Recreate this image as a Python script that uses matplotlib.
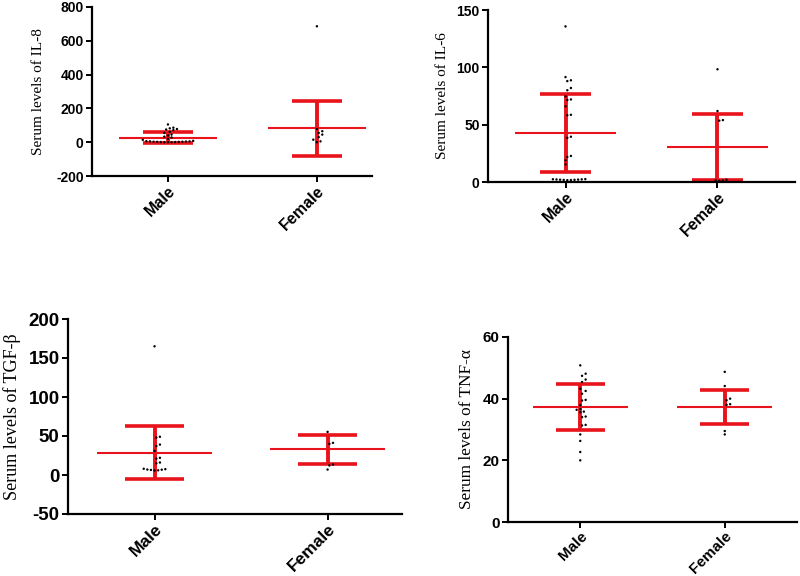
# dot plots of serum cytokine levels, male vs female, with mean and SD
import numpy as np
import matplotlib
matplotlib.use('Agg')
import matplotlib.pyplot as plt

plt.rcParams['axes.unicode_minus'] = False

groups = ['Male', 'Female']

# IL-8
il8_male = [105, 86, 82, 78, 75, 72, 62, 55, 45, 40, 33, 28, 20, 14,
            8, 6, 5, 5, 4, 3, 3, 2, 2, 1, 1, 0, 0, 0]
il8_female = [686, 78, 65, 55, 45, 30, 15, 5, 0]
il8_mean = [27, 83]
il8_sd = [34, 163]

# IL-6
il6_male = [135.7, 91.5, 88.7, 88.0, 82, 80, 74.7, 72, 71.5, 66, 58.6, 58.2,
            39.5, 38.5, 22.7, 21.8, 18.9, 15.4,
            2.5, 2.4, 2.3, 2.2, 2.1, 2.0, 1.9, 1.8, 1.7, 1.6]
il6_female = [98.3, 61.9, 54, 53.5, 2, 1.5, 1.2, 1]
il6_mean = [42.7, 30.5]
il6_sd = [34, 29]

# TGF-beta
tgf_male = [165, 49, 48, 39, 37, 31, 22, 21, 16, 15, 8, 7.5, 7, 6.8, 6.5, 6, 5.8]
tgf_female = [55.3, 41.2, 39.9, 13.4, 12.2, 7]
tgf_mean = [28.8, 33.3]
tgf_sd = [33.7, 18.6]

# TNF-alpha
tnf_male = [50.8, 48.1, 47.4, 46.2, 45.4, 43.2, 42.5, 41.6, 39.6, 39.4, 37.9,
            36.6, 36.4, 35.8, 35.6, 34.2, 34.0, 31.5, 31.3, 28.4, 26.3, 22.7, 20.0]
tnf_female = [48.7, 44.1, 40.0, 39.5, 38.2, 38.0, 29.5, 28.4]
tnf_mean = [37.3, 37.4]
tnf_sd = [7.6, 5.5]

red = '#e8131b'


def swarm(values, y_px, x_px, gap=3.0, step=3.6):
    # spread points with close values sideways (beeswarm-ish)
    vals = np.sort(np.asarray(values, dtype=float))
    offs = np.zeros(len(vals))
    i = 0
    while i < len(vals):
        j = i
        while j + 1 < len(vals) and (vals[j + 1] - vals[i]) * y_px < gap:
            j += 1
        n = j - i + 1
        for k in range(n):
            m = (k + 1) // 2
            offs[i + k] = m * step / x_px * (1 if k % 2 else -1) if n > 1 else 0
        if n % 2 == 0 and n > 1:
            offs[i:j + 1] += step / x_px / 2
        i = j + 1
    return vals, offs


def panel(rect, data, mean, sd, ylim, yticks, label, xlim, tick_fs, xlab_fs, lab_fs, lab_dx):
    ax = fig.add_axes(rect)
    w_px = rect[2] * 800
    h_px = rect[3] * 576
    x_px = w_px / (xlim[1] - xlim[0])
    y_px = h_px / (ylim[1] - ylim[0])
    for i in range(len(groups)):
        vals, offs = swarm(data[i], y_px, x_px)
        ax.scatter(i + offs, vals, s=3, c='black', edgecolors='none', zorder=3)
        # sd bar
        ax.vlines(i, mean[i] - sd[i], mean[i] + sd[i], color=red, lw=2.8, zorder=2)
        ax.hlines([mean[i] - sd[i], mean[i] + sd[i]], i - 0.17, i + 0.17, color=red, lw=2.6, zorder=2)
        # mean
        ax.hlines(mean[i], i - 0.33, i + 0.33, color=red, lw=1.5, zorder=2)
    ax.set_xlim(xlim)
    ax.set_ylim(ylim)
    ax.set_yticks(yticks)
    ax.set_xticks(range(len(groups)))
    ax.set_xticklabels(groups, rotation=45, ha='right', va='top', rotation_mode='anchor',
                       fontsize=xlab_fs, fontweight='bold', family='Liberation Sans')
    for t in ax.get_yticklabels():
        t.set_fontsize(tick_fs)
        t.set_fontweight('bold')
        t.set_family('Liberation Sans')
    ax.spines['top'].set_visible(False)
    ax.spines['right'].set_visible(False)
    ax.spines['left'].set_linewidth(1.6)
    ax.spines['bottom'].set_linewidth(1.6)
    ax.tick_params(axis='both', width=1.4, length=4, direction='out', pad=2)
    ax.tick_params(axis='x', pad=1)
    ax.set_ylabel(label, family='Liberation Serif', fontsize=lab_fs, va='center')
    ax.yaxis.set_label_coords(-lab_dx / w_px, 0.5)
    return ax


fig = plt.figure(figsize=(8, 5.76), dpi=100)

panel([92 / 800, 1 - 176 / 576, 280 / 800, 169 / 576], [il8_male, il8_female], il8_mean, il8_sd,
      (-200, 800), [-200, 0, 200, 400, 600, 800], 'Serum levels of IL-8', (-0.51, 1.37),
      10, 11.5, 11, 53)

panel([488 / 800, 1 - 182 / 576, 307 / 800, 172 / 576], [il6_male, il6_female], il6_mean, il6_sd,
      (0, 150), [0, 50, 100, 150], 'Serum levels of IL-6', (-0.51, 1.51),
      10, 11.5, 11, 46)

panel([68 / 800, 1 - 514 / 576, 334 / 800, 195 / 576], [tgf_male, tgf_female], tgf_mean, tgf_sd,
      (-50, 200), [-50, 0, 50, 100, 150, 200], 'Serum levels of TGF-\u03b2', (-0.5, 1.43),
      13.5, 12.5, 13, 56)

panel([508 / 800, 1 - 522 / 576, 289 / 800, 185 / 576], [tnf_male, tnf_female], tnf_mean, tnf_sd,
      (0, 60), [0, 20, 40, 60], 'Serum levels of TNF-\u03b1', (-0.5, 1.5),
      11, 11, 12.4, 41)

fig.savefig('out.png', dpi=100)
